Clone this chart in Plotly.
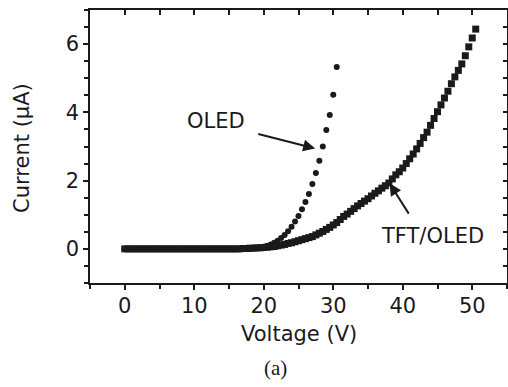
import plotly.graph_objects as go

# ---- data ----
oled_v = [i * 0.5 for i in range(62)]  # 0 .. 30.5 V
oled_i = [0.00] * 36 + [
    0.015, 0.02, 0.03, 0.04, 0.06, 0.09, 0.13, 0.18, 0.24, 0.32,
    0.41, 0.52, 0.65, 0.80, 0.96, 1.16, 1.37, 1.61, 1.90, 2.22,
    2.58, 3.00, 3.48, 3.92, 4.52, 5.33]

tft_v = [i * 0.5 for i in range(102)]  # 0 .. 50.5 V
tft_i = [0.00] * 34 + [
    0.01, 0.01, 0.02, 0.02, 0.03, 0.03, 0.04, 0.05, 0.06, 0.07,
    0.09, 0.11, 0.13, 0.16, 0.18, 0.21, 0.24, 0.27, 0.30, 0.33,
    0.36, 0.41, 0.46, 0.51, 0.57, 0.63, 0.70, 0.77, 0.86, 0.95,
    1.02, 1.10, 1.18, 1.26, 1.33, 1.40, 1.47, 1.55, 1.63, 1.70,
    1.78, 1.85, 1.93, 2.05, 2.17, 2.26, 2.37, 2.50, 2.64, 2.78,
    2.93, 3.09, 3.26, 3.42, 3.62, 3.82, 4.02, 4.22, 4.42, 4.62,
    4.84, 5.04, 5.23, 5.42, 5.66, 5.92, 6.18, 6.44]

x_ticks = [0, 10, 20, 30, 40, 50]
y_ticks = [0, 2, 4, 6]

INK = "#1a1a1a"
FONT = "DejaVu Sans, Liberation Sans, Arial, sans-serif"
X_RANGE = [-5, 55]
Y_RANGE = [-1, 7]

fig = go.Figure()
fig.add_trace(go.Scatter(x=tft_v, y=tft_i, mode="markers", name="TFT/OLED",
                         marker=dict(symbol="square", size=7, color=INK, line=dict(width=0))))
fig.add_trace(go.Scatter(x=oled_v, y=oled_i, mode="markers", name="OLED",
                         marker=dict(symbol="circle", size=6, color=INK, line=dict(width=0))))
# empty trace to realise the mirrored (top/right) axes
fig.add_trace(go.Scatter(x=[], y=[], xaxis="x2", yaxis="y2", showlegend=False, hoverinfo="skip"))

axis_common = dict(showgrid=False, zeroline=False, showline=True, linecolor=INK,
                   linewidth=1.5, tickcolor=INK, tickwidth=1.5, automargin=False,
                   tickfont=dict(family=FONT, size=21, color=INK))

fig.update_layout(
    width=508, height=387,
    margin=dict(l=90, r=1, t=10, b=104, autoexpand=False),
    paper_bgcolor="white", plot_bgcolor="white",
    showlegend=False,
    xaxis=dict(range=X_RANGE, tickvals=x_ticks, ticks="outside", ticklen=5,
               ticklabelstandoff=-2,
               minor=dict(dtick=5, tick0=0, ticks="outside", ticklen=4, tickcolor=INK, tickwidth=1.5),
               **axis_common),
    yaxis=dict(range=Y_RANGE, tickvals=y_ticks, ticks="outside", ticklen=5,
               ticklabelstandoff=0,
               minor=dict(dtick=0.5, tick0=0, ticks="outside", ticklen=4, tickcolor=INK, tickwidth=1.5),
               **axis_common),
    xaxis2=dict(range=X_RANGE, overlaying="x", side="top", anchor="y2", dtick=5, tick0=0,
                ticks="inside", ticklen=5, showticklabels=False, showgrid=False, zeroline=False,
                automargin=False,
                showline=True, linecolor=INK, linewidth=1.5, tickcolor=INK, tickwidth=1.5),
    yaxis2=dict(range=Y_RANGE, overlaying="y", side="right", anchor="x2", dtick=0.5, tick0=0,
                ticks="inside", ticklen=4, showticklabels=False, showgrid=False, zeroline=False,
                automargin=False,
                showline=True, linecolor=INK, linewidth=1.5, tickcolor=INK, tickwidth=1.5),
)

center = dict(xanchor="center", yanchor="middle", showarrow=False)
# axis titles and caption
fig.add_annotation(text="Voltage (V)", xref="paper", yref="paper", x=0.502, y=-0.187,
                   font=dict(family=FONT, size=21, color=INK), **center)
fig.add_annotation(text="Current (μA)", xref="paper", yref="paper", x=-0.163, y=0.495,
                   textangle=-90, font=dict(family=FONT, size=21, color=INK), **center)
fig.add_annotation(text="(a)", xref="paper", yref="paper", x=0.444, y=-0.311,
                   font=dict(family="Liberation Serif, Times New Roman, serif", size=21, color=INK),
                   **center)

# labels with arrows
fig.add_annotation(text="OLED", x=13.1, y=3.76, xref="x", yref="y",
                   font=dict(family=FONT, size=21, color=INK), **center)
fig.add_annotation(text="", x=27.4, y=2.94, ax=19.0, ay=3.38, xref="x", yref="y",
                   axref="x", ayref="y", showarrow=True, arrowhead=2, arrowsize=1.2,
                   arrowwidth=2, arrowcolor=INK)
fig.add_annotation(text="TFT/OLED", x=44.3, y=0.38, xref="x", yref="y",
                   font=dict(family=FONT, size=21, color=INK), **center)
fig.add_annotation(text="", x=38.1, y=1.92, ax=41.0, ay=0.99, xref="x", yref="y",
                   axref="x", ayref="y", showarrow=True, arrowhead=2, arrowsize=1.2,
                   arrowwidth=2, arrowcolor=INK)

fig.write_html("out.html", config={"displayModeBar": False},
               post_script="document.body.style.margin='0px';")
